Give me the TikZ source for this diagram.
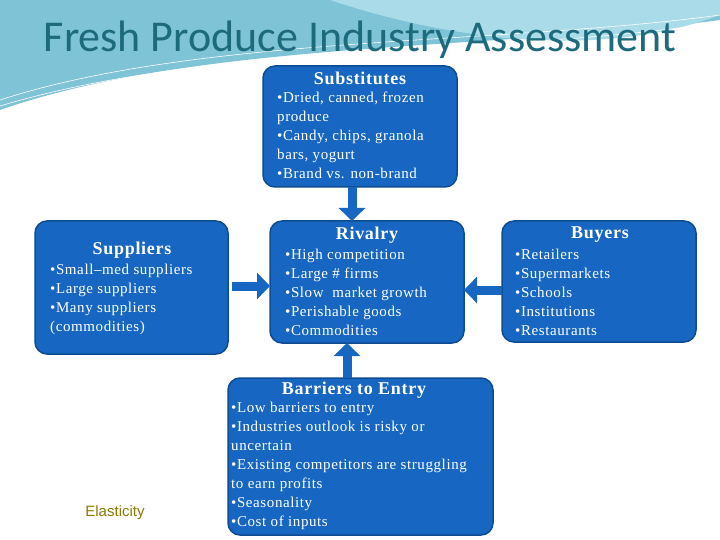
\documentclass[tikz,border=0pt]{standalone}
\usepackage{fontspec}
\setmainfont{Liberation Serif}[LetterSpace=4]
\newfontfamily\titlefont{Carlito}
\newfontfamily\elfont{Liberation Sans}
\usetikzlibrary{arrows.meta}
\definecolor{boxfill}{HTML}{1767C2}
\definecolor{boxedge}{HTML}{0E4C92}
\definecolor{titlecol}{HTML}{1D6A7C}
\definecolor{wave}{HTML}{A9DCE8}
\definecolor{wavedark}{HTML}{7FC3D6}
\definecolor{elcol}{HTML}{8C7A00}
\tikzset{
  box/.style={draw=boxedge, line width=1.5pt, fill=boxfill, rounded corners=12pt, text=white},
  head/.style={text=white, font=\fontsize{18}{20}\selectfont\bfseries},
  body/.style={text=white, align=left, font=\fontsize{15}{19}\selectfont, inner sep=0pt},
  blk/.style={draw=boxfill, line width=9pt, -{Triangle[length=13pt,width=26pt]}}
}
\begin{document}
\begin{tikzpicture}[x=1pt,y=-1pt]
\useasboundingbox (0,0) rectangle (720,540);
\fill[white] (0,0) rectangle (720,540);
% background waves
\fill[wavedark] (0,0) -- (720,0) -- (720,20) .. controls (500,50) and (200,40) .. (0,110) -- cycle;
\fill[wave] (330,0) -- (720,0) -- (720,15) .. controls (600,60) and (450,40) .. (330,0) -- cycle;
\draw[white, line width=0.6pt] (0,100) .. controls (200,35) and (500,45) .. (720,15);
\draw[white, line width=0.6pt] (0,106) .. controls (220,40) and (520,55) .. (720,22);
% title
\node[text=titlecol, font=\titlefont\fontsize{44}{48}\selectfont] (title) at (360,40) {Fresh Produce Industry Assessment};
% boxes
\draw[box] (263,66) rectangle (457,187);
\node[head] (subh) at (360,78) {Substitutes};
\node[body, anchor=north west] (subb) at (277,92) {•Dried, canned, frozen\\ produce\\ •Candy, chips, granola\\ bars, yogurt\\ •Brand vs. non-brand};
\coordinate (subs) at (352,187);

\draw[box] (270,221) rectangle (464,343);
\node[head] (rivh) at (367,235) {Rivalry};
\node[body, anchor=north west] (rivb) at (285,249) {•High competition\\ •Large \# firms\\ •Slow\ \ market growth\\ •Perishable goods\\ •Commodities};
\coordinate (rivn) at (352,221);
\coordinate (rivw) at (270,286);
\coordinate (rive) at (464,290);
\coordinate (rivs) at (347,343);

\draw[box] (35,221) rectangle (228,354);
\node[head] (suph) at (132,250) {Suppliers};
\node[body, anchor=north west] (supb) at (50,264) {•Small–med suppliers\\ •Large suppliers\\ •Many suppliers\\ (commodities)};
\coordinate (supe) at (232,286);

\draw[box] (502,221) rectangle (696,342);
\node[head] (buyh) at (600,235) {Buyers};
\node[body, anchor=north west] (buyb) at (515,249) {•Retailers\\ •Supermarkets\\ •Schools\\ •Institutions\\ •Restaurants};
\coordinate (buyw) at (502,290);

\draw[box] (228,378) rectangle (493,535);
\node[head] (barh) at (354,390) {Barriers to Entry};
\node[body, anchor=north west] (barb) at (231,402) {•Low barriers to entry\\ •Industries outlook is risky or\\ uncertain\\ •Existing competitors are struggling\\ to earn profits\\ •Seasonality\\ •Cost of inputs};
\coordinate (barn) at (347,378);

% arrows
\draw[blk] (subs) -- (rivn);
\draw[blk] (supe) -- (rivw);
\draw[blk] (buyw) -- (rive);
\draw[blk] (barn) -- (rivs);

\node[text=elcol, font=\elfont\fontsize{15}{17}\selectfont] (el) at (115,513) {Elasticity};
\end{tikzpicture}
\end{document}
